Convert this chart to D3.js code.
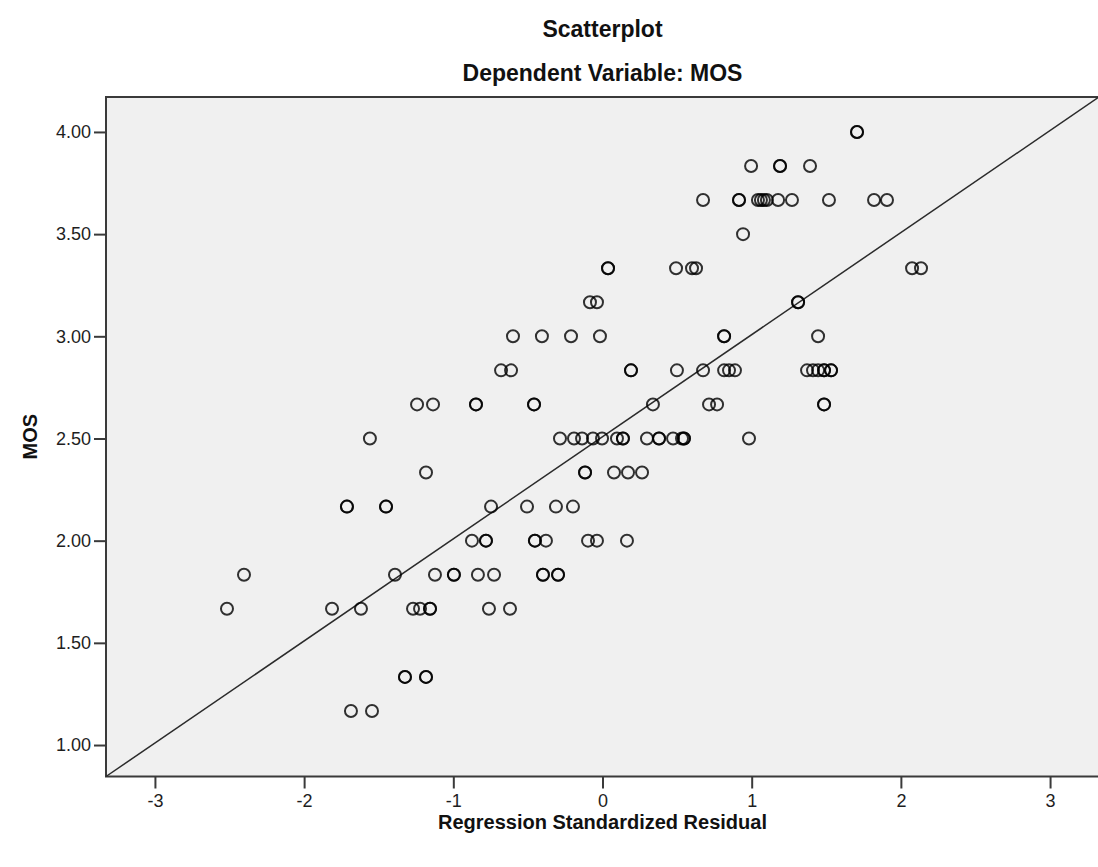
<!DOCTYPE html>
<html>
<head>
<meta charset="utf-8">
<script src="https://cdn.jsdelivr.net/npm/d3@7"></script>
<style>
  html, body { margin: 0; padding: 0; background: #fff; }
  svg { display: block; font-family: "Liberation Sans", Arial, sans-serif; }
</style>
</head>
<body>
<svg id="chart" width="1098" height="867"></svg>
<script>
// ---- Data ----
const chartTitle = "Scatterplot";
const chartSubtitle = "Dependent Variable: MOS";
const xTitle = "Regression Standardized Residual";
const yTitle = "MOS";

const xTicks = [-3, -2, -1, 0, 1, 2, 3];
const yTicks = [1.0, 1.5, 2.0, 2.5, 3.0, 3.5, 4.0];

// Regression standardized residual (x) and MOS (y), one entry per case
const residual = [
  // MOS 4.00
  1.706, 1.706,
  // MOS 3.83
  0.996, 1.190, 1.190, 1.391,
  // MOS 3.67
  0.674, 0.915, 0.915, 1.042, 1.062, 1.082, 1.102, 1.177, 1.270, 1.518, 1.820, 1.907,
  // MOS 3.50
  0.942,
  // MOS 3.33
  0.037, 0.037, 0.493, 0.600, 0.627, 2.075, 2.135,
  // MOS 3.17
  -0.084, -0.037, 1.311, 1.311,
  // MOS 3.00
  -0.600, -0.406, -0.211, -0.017, 0.815, 0.815, 1.445,
  // MOS 2.83
  -0.680, -0.613, 0.191, 0.191, 0.499, 0.674, 0.815, 0.848, 0.888, 1.371, 1.411, 1.445, 1.485, 1.485, 1.532, 1.532,
  // MOS 2.67
  -1.243, -1.136, -0.848, -0.848, -0.459, -0.459, 0.338, 0.714, 0.768, 1.485, 1.485,
  // MOS 2.50
  -1.559, -0.285, -0.191, -0.137, -0.064, -0.003, 0.097, 0.137, 0.137, 0.298, 0.379, 0.379, 0.473, 0.533, 0.546, 0.546, 0.982,
  // MOS 2.33
  -1.183, -0.117, -0.117, 0.077, 0.171, 0.265,
  // MOS 2.17
  -1.713, -1.713, -1.451, -1.451, -0.747, -0.506, -0.312, -0.198,
  // MOS 2.00
  -0.875, -0.781, -0.781, -0.453, -0.453, -0.379, -0.097, -0.037, 0.164,
  // MOS 1.83
  -2.403, -1.391, -1.123, -0.996, -0.996, -0.835, -0.727, -0.399, -0.399, -0.298, -0.298,
  // MOS 1.67
  -2.517, -1.813, -1.619, -1.270, -1.223, -1.156, -1.156, -0.761, -0.620,
  // MOS 1.33
  -1.324, -1.324, -1.183, -1.183,
  // MOS 1.17
  -1.686, -1.545
];

const mos = [
  4.0, 4.0,
  3.8333, 3.8333, 3.8333, 3.8333,
  3.6667, 3.6667, 3.6667, 3.6667, 3.6667, 3.6667, 3.6667, 3.6667, 3.6667, 3.6667, 3.6667, 3.6667,
  3.5,
  3.3333, 3.3333, 3.3333, 3.3333, 3.3333, 3.3333, 3.3333,
  3.1667, 3.1667, 3.1667, 3.1667,
  3.0, 3.0, 3.0, 3.0, 3.0, 3.0, 3.0,
  2.8333, 2.8333, 2.8333, 2.8333, 2.8333, 2.8333, 2.8333, 2.8333, 2.8333, 2.8333, 2.8333, 2.8333, 2.8333, 2.8333, 2.8333, 2.8333,
  2.6667, 2.6667, 2.6667, 2.6667, 2.6667, 2.6667, 2.6667, 2.6667, 2.6667, 2.6667, 2.6667,
  2.5, 2.5, 2.5, 2.5, 2.5, 2.5, 2.5, 2.5, 2.5, 2.5, 2.5, 2.5, 2.5, 2.5, 2.5, 2.5, 2.5,
  2.3333, 2.3333, 2.3333, 2.3333, 2.3333, 2.3333,
  2.1667, 2.1667, 2.1667, 2.1667, 2.1667, 2.1667, 2.1667, 2.1667,
  2.0, 2.0, 2.0, 2.0, 2.0, 2.0, 2.0, 2.0, 2.0,
  1.8333, 1.8333, 1.8333, 1.8333, 1.8333, 1.8333, 1.8333, 1.8333, 1.8333, 1.8333, 1.8333,
  1.6667, 1.6667, 1.6667, 1.6667, 1.6667, 1.6667, 1.6667, 1.6667, 1.6667,
  1.3333, 1.3333, 1.3333, 1.3333,
  1.1667, 1.1667
];

const xDomain = [-3.328, 3.328];
const yDomain = [0.846, 4.171];

// ---- Layout ----
const svg = d3.select("#chart");
const plot = { left: 106, right: 1099, top: 97, bottom: 776.5 };

const x = d3.scaleLinear().domain(xDomain).range([plot.left, plot.right]);
const y = d3.scaleLinear().domain(yDomain).range([plot.bottom, plot.top]);

// Plot background
svg.append("rect")
  .attr("x", plot.left).attr("y", plot.top)
  .attr("width", plot.right - plot.left).attr("height", plot.bottom - plot.top)
  .attr("fill", "#f0f0f0")
  .attr("stroke", "#3a3a3a").attr("stroke-width", 2);

// Diagonal reference line (corner to corner)
svg.append("line")
  .attr("x1", x(xDomain[0])).attr("y1", y(yDomain[0]))
  .attr("x2", x(xDomain[1])).attr("y2", y(yDomain[1]))
  .attr("stroke", "#2b2b2b").attr("stroke-width", 1.5);

// Points
const pts = residual.map((r, i) => ({ r, m: mos[i] }));
svg.append("g").selectAll("circle").data(pts).join("circle")
  .attr("cx", d => x(d.r)).attr("cy", d => y(d.m))
  .attr("r", 6)
  .attr("fill", "none")
  .attr("stroke", "rgba(0,0,0,0.8)")
  .attr("stroke-width", 2);

// Axes
const yAxis = d3.axisLeft(y).tickValues(yTicks).tickFormat(d3.format(".2f"))
  .tickSize(12).tickSizeOuter(0).tickPadding(3);
const gy = svg.append("g").attr("transform", `translate(${plot.left},0)`).call(yAxis);

const xAxis = d3.axisBottom(x).tickValues(xTicks).tickFormat(d => String(d))
  .tickSize(12).tickSizeOuter(0).tickPadding(6);
const gx = svg.append("g").attr("transform", `translate(0,${plot.bottom})`).call(xAxis);

[gx, gy].forEach(g => {
  g.select(".domain").remove();
  g.selectAll(".tick line").attr("stroke", "#3a3a3a").attr("stroke-width", 2);
  g.selectAll(".tick text")
    .attr("fill", "#1e1e1e")
    .style("font-family", "'Liberation Sans', Arial, sans-serif")
    .style("font-size", "18px");
});

// Titles
svg.append("text")
  .attr("x", (plot.left + plot.right) / 2).attr("y", 37)
  .attr("text-anchor", "middle")
  .style("font-size", "23px").style("font-weight", "bold").attr("fill", "#111")
  .text(chartTitle);

svg.append("text")
  .attr("x", (plot.left + plot.right) / 2).attr("y", 81)
  .attr("text-anchor", "middle")
  .style("font-size", "23px").style("font-weight", "bold").attr("fill", "#111")
  .text(chartSubtitle);

svg.append("text")
  .attr("x", (plot.left + plot.right) / 2).attr("y", 829)
  .attr("text-anchor", "middle")
  .style("font-size", "20px").style("font-weight", "bold").attr("fill", "#111")
  .text(xTitle);

svg.append("text")
  .attr("transform", `translate(37,${(plot.top + plot.bottom) / 2}) rotate(-90)`)
  .attr("text-anchor", "middle")
  .style("font-size", "20px").style("font-weight", "bold").attr("fill", "#111")
  .text(yTitle);
</script>
</body>
</html>
